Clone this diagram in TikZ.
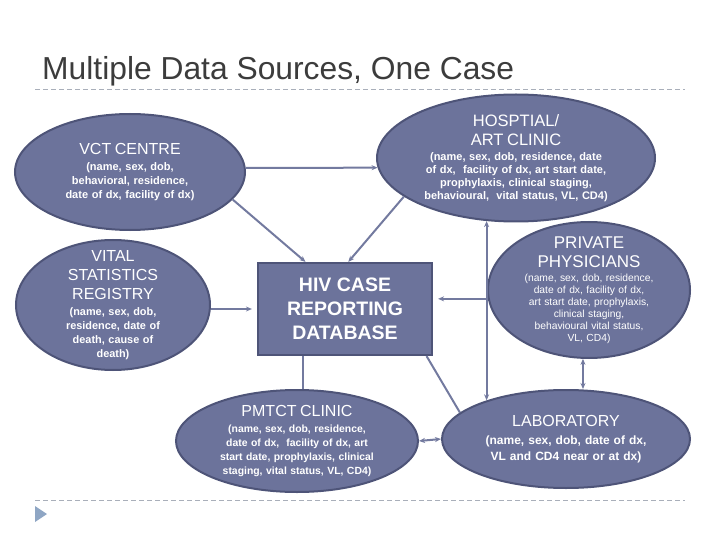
\documentclass[tikz,border=0pt]{standalone}
\usepackage{fontspec}
\setmainfont{Liberation Sans}
\usetikzlibrary{shapes.geometric,arrows.meta}

\definecolor{figFill}{HTML}{6C739B}
\definecolor{figEdge}{HTML}{4E5478}
\definecolor{figLine}{HTML}{737A9F}
\definecolor{figTitle}{HTML}{3C3C3C}
\definecolor{figRule}{HTML}{A9AFBA}
\definecolor{figMark}{HTML}{8FA6C4}

\newcommand{\hd}[2][16]{{\normalfont\fontsize{#1}{19}\selectfont #2\par}\vspace{2.5pt}}

\tikzset{
  src/.style={ellipse, draw=figEdge, line width=2pt, fill=figFill, text=white,
    align=center, text width=180pt, inner sep=-40pt},
  hub/.style={rectangle, draw=figEdge, line width=2.2pt, fill=figFill, text=white,
    align=center, font=\fontsize{19.5}{24}\selectfont\bfseries},
  link/.style={draw=figLine, line width=2pt},
  rule/.style={draw=figRule, line width=1pt, dash pattern=on 5pt off 3pt}
}

\begin{document}
\begin{tikzpicture}[x=1pt,y=-1pt,>={Stealth[length=6pt,width=5pt]}]
\useasboundingbox (0,0) rectangle (720,540);
\node[anchor=base west, inner sep=0, text=figTitle, font=\fontsize{31.8}{36}\selectfont] (title) at (42,80) {Multiple Data Sources, One Case};
\draw[rule] (35,90) -- (685,90);
\draw[rule] (35,500) -- (685,500);
\fill[figMark] (35,506) -- (47,514) -- (35,522) -- cycle;

% sources round the database
\node[src, minimum width=230pt, minimum height=116pt, font=\fontsize{11}{13.8}\selectfont\bfseries] (vct) at (130,172)
  {\hd{VCT CENTRE}(name, sex, dob,\\ behavioral, residence,\\ date of dx, facility of dx)};
\node[src, minimum width=194pt, minimum height=130pt, font=\fontsize{10.9}{13.8}\selectfont\bfseries] (vital) at (113,305)
  {\hd{VITAL\\ STATISTICS\\ REGISTRY}(name, sex, dob,\\ residence, date of\\ death, cause of\\ death)};
\node[src, text width=210pt, minimum width=278pt, minimum height=127pt, font=\fontsize{11}{13}\selectfont\bfseries] (hosp) at (516,158)
  {\hd[16.5]{HOSPTIAL/\\ ART CLINIC}(name, sex, dob, residence, date\\ of dx,\ \ facility of dx, art start date,\\ prophylaxis, clinical staging,\\ behavioural,\ \ vital status, VL, CD4)};
\node[src, minimum width=202pt, minimum height=136pt, font=\fontsize{10.3}{12}\selectfont] (priv) at (589,290)
  {\hd[17]{PRIVATE\\ PHYSICIANS}(name, sex, dob, residence,\\ date of dx, facility of dx,\\ art start date, prophylaxis,\\ clinical staging,\\ behavioural vital status,\\ VL, CD4)};
\node[src, minimum width=242pt, minimum height=102pt, font=\fontsize{10.4}{13.8}\selectfont\bfseries] (pmtct) at (297,441)
  {\hd{PMTCT CLINIC}(name, sex, dob, residence,\\ date of dx,\ \ facility of dx, art\\ start date, prophylaxis, clinical\\ staging, vital status, VL, CD4)};
\node[src, minimum width=248pt, minimum height=98pt, font=\fontsize{12}{15.7}\selectfont\bfseries] (lab) at (566,439)
  {\hd{LABORATORY}(name, sex, dob, date of dx,\\ VL and CD4 near or at dx)};

\node[hub, minimum width=174pt, minimum height=92pt] (hiv) at (345,309) {HIV CASE\\ REPORTING\\ DATABASE};

% connectors
\draw[link,->] (vct.2) -- (hosp.184);
\draw[link,->] (vct.-15) -- (hiv.130);
\draw[link,->] (hosp.199) -- (hiv.86);
\draw[link,->,shorten >=5pt] (vital.east |- hiv.west) -- (hiv.west);
\draw[link,->,shorten >=5pt] (priv.185) -- (priv.185 -| hiv.east);
\draw[link,<->] (hosp.245) -- (hosp.245 |- lab.154);
\draw[link,<->] (priv.265) -- (priv.265 |- lab.north);
\draw[link] (hiv.228) -- (hiv.228 |- pmtct.north);
\draw[link] (hiv.-30) -- (lab.166);
\draw[link,<->] (pmtct.east) -- (lab.west);
\end{tikzpicture}
\end{document}
